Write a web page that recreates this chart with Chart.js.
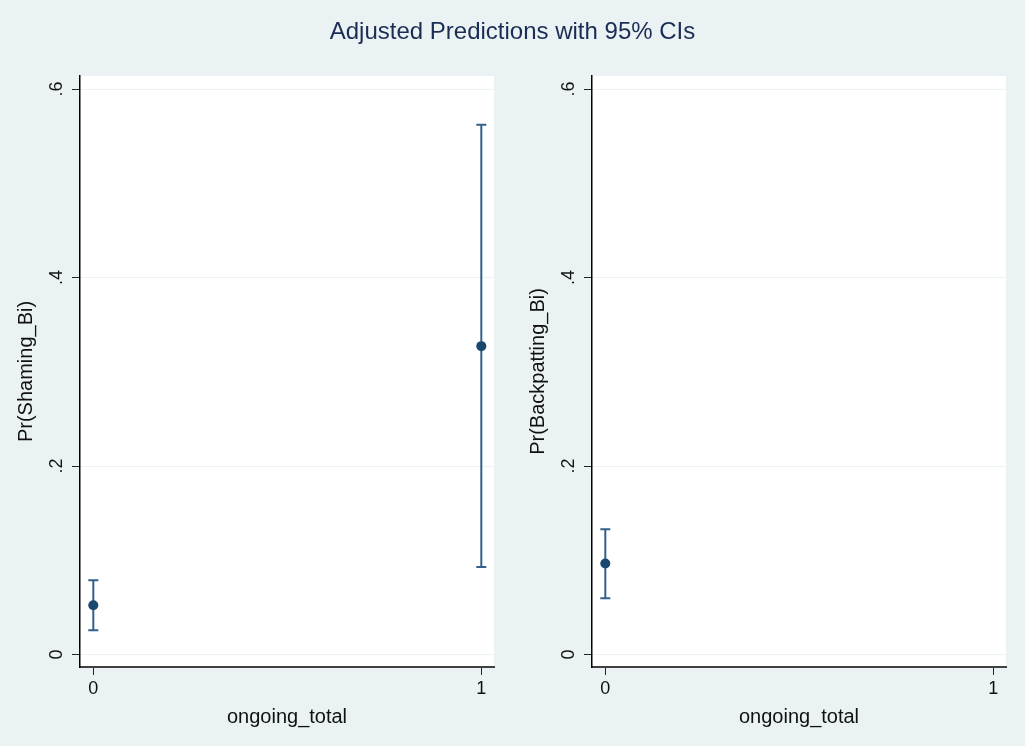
<!DOCTYPE html>
<html>
<head>
<meta charset="utf-8">
<script src="https://cdn.jsdelivr.net/npm/chart.js@4.4.0/dist/chart.umd.min.js"></script>
<style>
  html, body { margin: 0; padding: 0; background: #eaf2f3; }
  #wrap { position: relative; width: 1025px; height: 746px; overflow: hidden; }
  #title {
    position: absolute; left: 0; top: 17px; width: 1025px; text-align: center;
    font-family: "Liberation Sans", Arial, sans-serif; font-size: 24px; color: #1c2d55;
    z-index: 2;
  }
  canvas { position: absolute; top: 0; }
  #leftChart { left: 0; }
  #rightChart { left: 512px; }
</style>
</head>
<body>
<div id="wrap">
  <div id="title">Adjusted Predictions with 95% CIs</div>
  <canvas id="leftChart" width="512" height="746"></canvas>
  <canvas id="rightChart" width="513" height="746"></canvas>
</div>
<script>
// ---------------------------
// Data
// ---------------------------
const xCats = [0, 1];
const xTicks = [0, 1];
const yTicks = [0, 0.2, 0.4, 0.6];
const yTickLabels = ['0', '.2', '.4', '.6'];

const shamingEst = [0.0523, 0.3272];
const shamingLo = [0.0258, 0.0930];
const shamingHi = [0.0789, 0.5621];

const backCats = [0];
const backEst = [0.0966];
const backLo = [0.0598];
const backHi = [0.1330];

const navy = '#1a476f';
const ciColor = '#33618c';
const fontFamily = '"Liberation Sans", Arial, sans-serif';

// white plot region
const plotBg = {
  id: 'plotBg',
  beforeDraw(chart) {
    const {ctx, chartArea: a} = chart;
    ctx.save();
    ctx.fillStyle = '#ffffff';
    ctx.fillRect(a.left, a.top, a.right - a.left, a.bottom - a.top);
    ctx.restore();
  }
};

// CI bars drawn through the scales
const errorBars = {
  id: 'errorBars',
  beforeDatasetsDraw(chart) {
    const {ctx, scales: {x, y}} = chart;
    ctx.save();
    ctx.strokeStyle = ciColor;
    ctx.lineWidth = 2;
    chart.data.datasets.forEach(ds => {
      ds.data.forEach((p, i) => {
        const px = x.getPixelForValue(p.x);
        const top = y.getPixelForValue(ds.hi[i]);
        const bot = y.getPixelForValue(ds.lo[i]);
        ctx.beginPath();
        ctx.moveTo(px, top); ctx.lineTo(px, bot);
        ctx.moveTo(px - 5, top); ctx.lineTo(px + 5, top);
        ctx.moveTo(px - 5, bot); ctx.lineTo(px + 5, bot);
        ctx.stroke();
      });
    });
    ctx.restore();
  }
};

function makePanel(canvasId, cats, est, lo, hi, yTitle, rightPad) {
  const points = cats.map((c, i) => ({x: c, y: est[i]}));
  return new Chart(document.getElementById(canvasId), {
    type: 'scatter',
    data: {
      datasets: [{
        data: points,
        lo: lo,
        hi: hi,
        pointRadius: 5,
        pointHoverRadius: 5,
        pointBackgroundColor: navy,
        pointBorderColor: navy,
        pointBorderWidth: 0
      }]
    },
    options: {
      responsive: false,
      animation: false,
      layout: { padding: { top: 76, right: rightPad, left: 0, bottom: 0 } },
      plugins: { legend: { display: false }, tooltip: { enabled: false } },
      scales: {
        x: {
          type: 'linear',
          min: -0.0343,
          max: 1.0327,
          afterBuildTicks: s => { s.ticks = xTicks.map(v => ({value: v})); },
          afterFit: s => { s.height = 79; },
          grid: { drawOnChartArea: false, tickLength: 8, tickColor: '#222', tickWidth: 1 },
          border: { color: '#404040', width: 2 },
          ticks: {
            color: '#111',
            padding: 3,
            maxRotation: 0,
            font: { family: fontFamily, size: 18 },
            callback: v => String(v)
          },
          title: {
            display: true,
            text: 'ongoing_total',
            color: '#111',
            font: { family: fontFamily, size: 20 },
            padding: { top: 0, bottom: 17 }
          }
        },
        y: {
          type: 'linear',
          min: -0.0132,
          max: 0.6138,
          afterBuildTicks: s => { s.ticks = yTicks.map(v => ({value: v})); },
          afterFit: s => { s.width = 80; },
          grid: { color: '#eaf2f3', lineWidth: 1, tickLength: 8, tickColor: '#222', tickWidth: 1 },
          border: { color: '#000', width: 1.5 },
          ticks: {
            color: '#111',
            padding: 7,
            minRotation: 90,
            maxRotation: 90,
            crossAlign: 'center',
            font: { family: fontFamily, size: 18 },
            callback: v => yTickLabels[yTicks.indexOf(v)]
          },
          title: {
            display: true,
            text: yTitle,
            color: '#111',
            font: { family: fontFamily, size: 20 },
            padding: { top: 14, bottom: 0 }
          }
        }
      }
    },
    plugins: [plotBg, errorBars]
  });
}

makePanel('leftChart', xCats, shamingEst, shamingLo, shamingHi, 'Pr(Shaming_Bi)', 18);
makePanel('rightChart', backCats, backEst, backLo, backHi, 'Pr(Backpatting_Bi)', 19);
</script>
</body>
</html>
